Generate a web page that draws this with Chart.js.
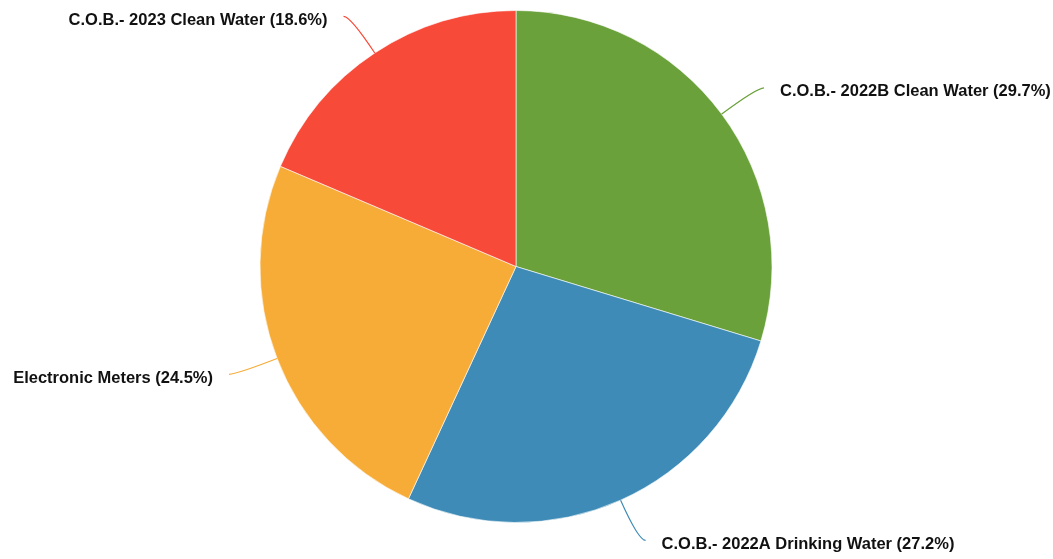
<!DOCTYPE html>
<html>
<head>
<meta charset="utf-8">
<script src="https://cdn.jsdelivr.net/npm/chart.js@4.4.1/dist/chart.umd.min.js"></script>
<style>
    html, body { margin: 0; padding: 0; background: #fff; }
    #wrap { width: 1053px; height: 559px; position: relative; }
</style>
</head>
<body>
<div id="wrap"><canvas id="graphPie"></canvas></div>
<script>
var categories = [
    "C.O.B.- 2022B Clean Water",
    "C.O.B.- 2022A Drinking Water",
    "Electronic Meters",
    "C.O.B.- 2023 Clean Water"
];
var parts = [29.7, 27.2, 24.5, 18.6];
var couleurs = ["#6aa13a", "#3d8bb6", "#f7ac38", "#f84a39"];

// leader lines + labels outside the pie
var etiquettesExt = {
    id: 'etiquettesExt',
    afterDatasetsDraw: function (chart) {
        var ctx = chart.ctx;
        var meta = chart.getDatasetMeta(0);
        ctx.save();
        ctx.font = "bold 16.5px 'Liberation Sans', Arial, sans-serif";
        ctx.textBaseline = 'middle';
        meta.data.forEach(function (arc, i) {
            var angle = (arc.startAngle + arc.endAngle) / 2;
            var dx = Math.cos(angle), dy = Math.sin(angle);
            var r = arc.outerRadius;
            var x0 = arc.x + dx * r, y0 = arc.y + dy * r;
            var cx = arc.x + dx * (r + 44), cy = arc.y + dy * (r + 44);
            var droite = dx >= 0;
            var x1 = cx + (droite ? 7 : -7);
            ctx.strokeStyle = couleurs[i];
            ctx.lineWidth = 1.2;
            ctx.beginPath();
            ctx.moveTo(x0, y0);
            ctx.quadraticCurveTo(cx, cy, x1, cy);
            ctx.stroke();
            ctx.fillStyle = '#111';
            ctx.textAlign = droite ? 'left' : 'right';
            var txt = categories[i] + " (" + parts[i].toFixed(1) + "%)";
            ctx.fillText(txt, x1 + (droite ? 16 : -16), cy + 4);
        });
        ctx.restore();
    }
};

new Chart(document.getElementById("graphPie").getContext('2d'), {
    type: 'pie',
    data: {
        labels: categories,
        datasets: [{
            data: parts,
            backgroundColor: couleurs,
            borderColor: 'rgba(255,255,255,0.6)',
            borderWidth: 1
        }]
    },
    options: {
        responsive: true,
        maintainAspectRatio: false,
        animation: false,
        layout: { padding: { top: 10, bottom: 36, left: 200, right: 221 } },
        plugins: {
            legend: { display: false },
            tooltip: { enabled: false }
        }
    },
    plugins: [etiquettesExt]
});
</script>
</body>
</html>
